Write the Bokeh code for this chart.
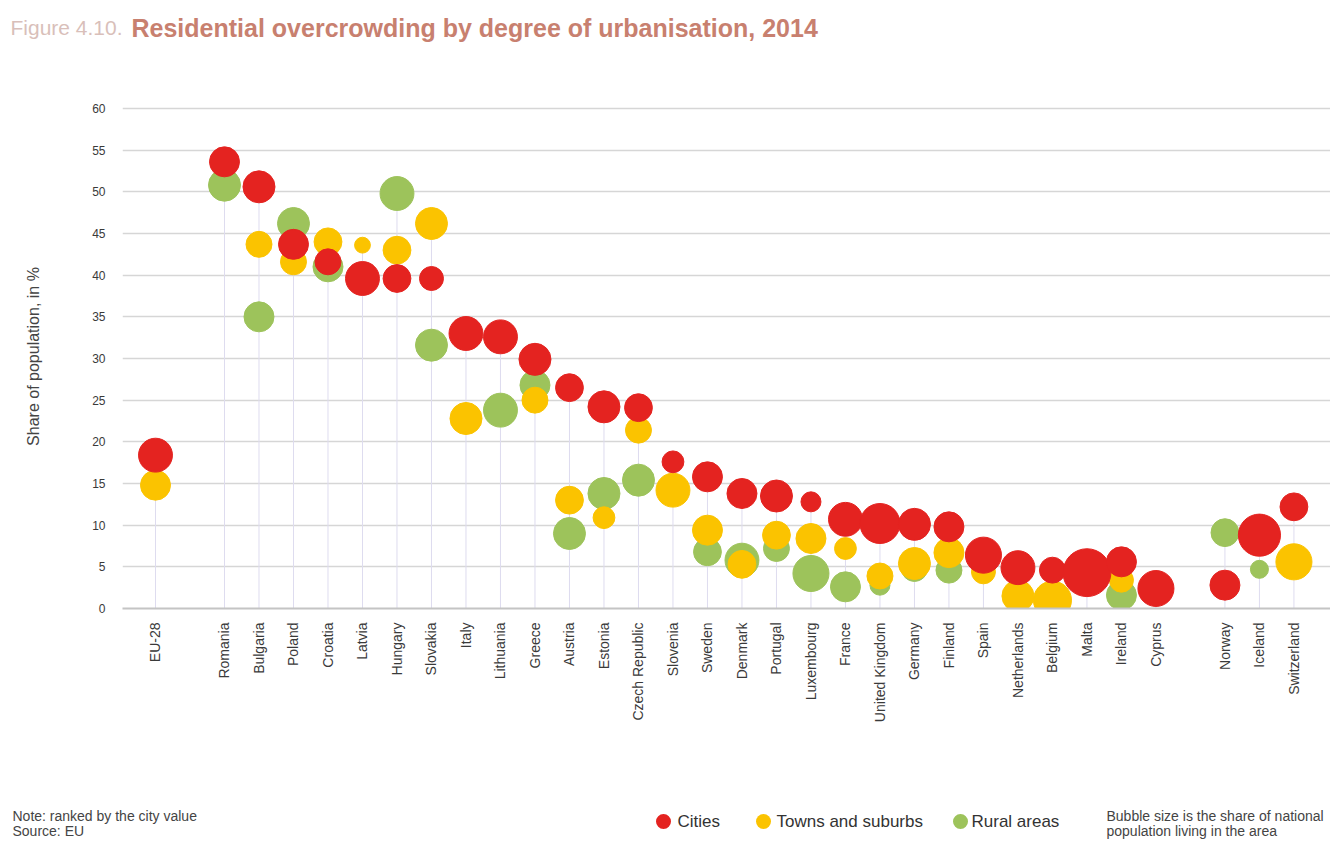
import numpy as np
from bokeh.plotting import figure
from bokeh.layouts import column
from bokeh.models import ColumnDataSource, FixedTicker, Range1d
from bokeh.core.properties import value
from bokeh.embed import file_html
from bokeh.resources import INLINE

# ---------------- data ----------------
eu_group = ["EU-28"]
member_states = ["Romania", "Bulgaria", "Poland", "Croatia", "Latvia", "Hungary", "Slovakia",
                 "Italy", "Lithuania", "Greece", "Austria", "Estonia", "Czech Republic",
                 "Slovenia", "Sweden", "Denmark", "Portugal", "Luxembourg", "France",
                 "United Kingdom", "Germany", "Finland", "Spain", "Netherlands", "Belgium",
                 "Malta", "Ireland", "Cyprus"]
efta_group = ["Norway", "Iceland", "Switzerland"]

# overcrowding rate, % of population (None = not shown)
cities = [18.4,
          53.6, 50.6, 43.7, 41.6, 39.6, 39.6, 39.6, 33.0, 32.6, 29.9, 26.5, 24.2, 24.1,
          17.6, 15.8, 13.8, 13.5, 12.8, 10.7, 10.2, 10.1, 9.8, 6.4, 4.9, 4.6, 4.3, 5.6, 2.4,
          2.8, 8.8, 12.2]
towns = [14.8,
         None, 43.7, 41.6, 44.0, 43.6, 43.0, 46.2, 22.8, None, 25.0, 13.0, 10.9, 21.4,
         14.2, 9.4, 5.3, 8.8, 8.4, 7.2, 3.9, 5.4, 6.7, 4.4, 1.5, 1.0, None, 3.4, None,
         None, None, 5.6]
rural = [None,
         50.8, 35.0, 46.2, 41.0, None, 49.8, 31.6, None, 23.8, 26.8, 9.0, 13.8, 15.4,
         None, 6.8, 5.8, 7.2, 4.2, 2.6, 2.8, 4.8, 4.6, None, None, None, None, 1.6, None,
         9.1, 4.7, None]

# share of national population living in the area, % (bubble size)
cities_share = [46,
                36, 41, 36, 27, 46, 31, 23, 46, 46, 41, 31, 41, 31,
                19, 36, 36, 41, 16, 46, 64, 41, 36, 52, 46, 27, 92, 36, 52,
                36, 71, 31]
towns_share = [36,
               None, 27, 27, 31, 10, 31, 41, 41, None, 27, 31, 19, 27,
               46, 36, 31, 31, 36, 19, 27, 41, 36, 23, 41, 58, None, 23, None,
               None, None, 52]
rural_share = [None,
               41, 36, 41, 36, None, 46, 41, None, 46, 36, 41, 41, 41,
               None, 31, 46, 27, 52, 36, 16, 27, 27, None, None, None, None, 36, None,
               31, 13, None]

series_names = ["Cities", "Towns and suburbs", "Rural areas"]

title_prefix = "Figure 4.10."
title_text = "Residential overcrowding by degree of urbanisation, 2014"
y_label = "Share of population, in %"
note_lines = ["Note: ranked by the city value", "Source: EU"]
size_note_lines = ["Bubble size is the share of national", "population living in the area"]

# ---------------- styling ----------------
RED = "#E42320"
YELLOW = "#FBC300"
GREEN = "#9DC35B"
SANS = "'Liberation Sans', Arial, sans-serif"
W = 1330

countries = eu_group + member_states + efta_group
positions = []
i = 0
for gi, grp in enumerate([eu_group, member_states, efta_group]):
    if gi > 0:
        i += 1  # empty slot between groups
    for _ in grp:
        positions.append(i)
        i += 1


def make_source(vals, shares):
    xs, ys, ss = [], [], []
    for x, v, s in zip(positions, vals, shares):
        if v is None:
            continue
        xs.append(x)
        ys.append(v)
        ss.append(5.0 * np.sqrt(s))
    return ColumnDataSource(dict(x=xs, y=ys, size=ss))


def to_arr(vals):
    return np.array([np.nan if v is None else v for v in vals], dtype=float)


top_vals = np.nanmax(np.vstack([to_arr(cities), to_arr(towns), to_arr(rural)]), axis=0)


def blank_fig(h):
    f = figure(width=W, height=h, x_range=Range1d(0, W), y_range=Range1d(0, h),
               output_backend="svg", toolbar_location=None,
               x_axis_location=None, y_axis_location=None, frame_align=False,
               min_border_left=0, min_border_right=0, min_border_top=0, min_border_bottom=0)
    f.outline_line_color = None
    f.grid.visible = False
    f.background_fill_color = "white"
    f.border_fill_color = "white"
    return f


# ---------------- header (title) ----------------
HEAD_H = 60
head = blank_fig(HEAD_H)
head.text(x=[10], y=[HEAD_H - 27], text=[title_prefix], text_font=value(SANS),
          text_font_size="21px", text_color="#d9bfba", text_baseline="middle")
head.text(x=[131], y=[HEAD_H - 27], text=[title_text], text_font=value(SANS),
          text_font_size="25px", text_font_style="bold", text_color="#c8806f",
          text_baseline="middle")

# ---------------- main chart ----------------
MAIN_H = 700
p = figure(width=W, height=MAIN_H,
           x_range=Range1d(-0.9565, 34.06), y_range=Range1d(0, 60.48),
           output_backend="svg", toolbar_location=None, frame_align=False,
           min_border_left=122, min_border_right=0, min_border_top=44, min_border_bottom=152)
p.outline_line_color = None
p.background_fill_color = "white"
p.border_fill_color = "white"

p.yaxis.ticker = FixedTicker(ticks=list(range(0, 61, 5)))
p.yaxis.axis_line_color = None
p.yaxis.major_tick_line_color = None
p.yaxis.minor_tick_line_color = None
p.yaxis.major_label_standoff = 11
p.yaxis.major_label_text_font = SANS
p.yaxis.major_label_text_font_size = "12px"
p.yaxis.major_label_text_color = "#3a3a3a"
p.yaxis.axis_label = y_label
p.yaxis.axis_label_text_font = SANS
p.yaxis.axis_label_text_font_style = "normal"
p.yaxis.axis_label_text_font_size = "16px"
p.yaxis.axis_label_text_color = "#444444"
p.yaxis.axis_label_standoff = 47

p.xaxis.ticker = FixedTicker(ticks=positions)
p.xaxis.major_label_overrides = {x: c for x, c in zip(positions, countries)}
p.xaxis.major_label_orientation = np.pi / 2
p.xaxis.major_tick_line_color = None
p.xaxis.minor_tick_line_color = None
p.xaxis.axis_line_color = "#c4c4c4"
p.xaxis.axis_line_width = 2
p.xaxis.major_label_standoff = 8
p.xaxis.major_label_text_font = SANS
p.xaxis.major_label_text_font_size = "14px"
p.xaxis.major_label_text_color = "#3a3a3a"

p.xgrid.grid_line_color = None
p.ygrid.grid_line_color = "#d6d6d6"
p.ygrid.grid_line_width = 1.5

# drop lines from the baseline to the highest bubble of each country
p.segment(x0=positions, y0=0, x1=positions, y1=top_vals, line_color="#dedcef", line_width=1)

for vals, shares, col in [(rural, rural_share, GREEN), (towns, towns_share, YELLOW),
                          (cities, cities_share, RED)]:
    p.scatter("x", "y", size="size", source=make_source(vals, shares),
              fill_color=col, line_color=col, line_width=1)

# ---------------- footer (notes + legend) ----------------
FOOT_H = 86
foot = blank_fig(FOOT_H)
BASE = HEAD_H + MAIN_H  # page y of footer top


def fy(page_y):
    return FOOT_H - (page_y - BASE)


foot.text(x=[12, 12], y=[fy(815), fy(830)], text=note_lines, text_font=value(SANS),
          text_font_size="14px", text_color="#444444", text_baseline="middle")
foot.text(x=[1106, 1106], y=[fy(815), fy(830)], text=size_note_lines, text_font=value(SANS),
          text_font_size="14px", text_color="#444444", text_baseline="middle")

leg_marker_x = [663, 763, 960]
leg_text_x = [677, 776, 971]
foot.scatter(x=leg_marker_x, y=[fy(821)] * 3, size=15, fill_color=[RED, YELLOW, GREEN],
             line_color=None)
foot.text(x=leg_text_x, y=[fy(821)] * 3, text=series_names, text_font=value(SANS),
          text_font_size="17px", text_color="#333333", text_baseline="middle")

layout = column(head, p, foot, spacing=0)
open("out.html", "w").write(file_html(layout, INLINE))
